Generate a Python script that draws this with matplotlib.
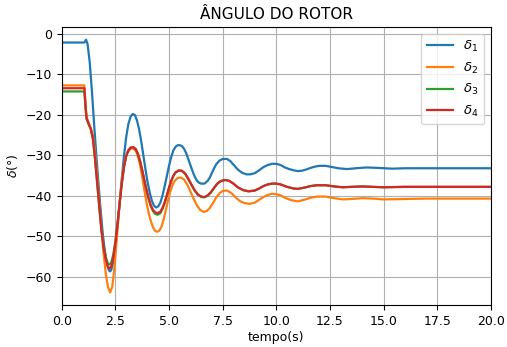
import numpy as np
import matplotlib
matplotlib.use('Agg')
from matplotlib import pyplot as plt

# data (tempo in s, angle in degrees) ----------------------------------------
t_d1 = [0.0, 1.05, 1.13, 1.2, 1.3, 1.4, 1.5, 1.6, 1.7, 1.8, 1.9, 2.0, 2.1, 2.2, 2.25,
        2.3, 2.4, 2.5, 2.6, 2.7, 2.8, 2.9, 3.0, 3.1, 3.2, 3.3, 3.4, 3.5, 3.6, 3.7,
        3.8, 3.9, 4.0, 4.1, 4.2, 4.3, 4.4, 4.5, 4.6, 4.7, 4.8, 4.9, 5.0, 5.1, 5.2,
        5.3, 5.4, 5.5, 5.6, 5.7, 5.8, 5.9, 6.0, 6.1, 6.2, 6.3, 6.4, 6.5, 6.65, 6.8,
        6.9, 7.0, 7.1, 7.2, 7.35, 7.5, 7.7, 7.85, 8.0, 8.2, 8.4, 8.6, 8.8, 9.0, 9.2,
        9.4, 9.6, 9.8, 10.0, 10.2, 10.4, 10.6, 10.8, 11.0, 11.2, 11.4, 11.6, 11.8,
        12.0, 12.3, 12.6, 12.9, 13.3, 13.7, 14.2, 14.7, 15.4, 16.0, 17.0, 18.0, 20.0]
d1 = [-2.1, -2.1, -1.4, -2.5, -7.0, -14.0, -22.0, -29.5, -36.5, -43.0, -49.0, -53.5,
      -56.8, -58.5, -58.7, -58.4, -56.3, -52.5, -47.5, -41.5, -35.5, -30.0, -25.5,
      -22.3, -20.5, -19.8, -20.0, -21.3, -23.5, -26.5, -30.0, -33.5, -36.7, -39.3,
      -41.3, -42.5, -42.9, -42.6, -41.6, -39.8, -37.5, -35.0, -32.5, -30.4, -28.8,
      -27.9, -27.5, -27.5, -27.7, -28.4, -29.5, -31.0, -32.5, -34.0, -35.3, -36.3,
      -36.8, -37.0, -37.0, -36.3, -35.5, -34.3, -33.2, -32.2, -31.3, -30.9, -30.9,
      -31.4, -32.3, -33.5, -34.3, -34.7, -34.7, -34.4, -33.7, -32.9, -32.4, -32.1,
      -32.1, -32.4, -33.0, -33.4, -33.7, -33.9, -33.8, -33.5, -33.1, -32.8, -32.6,
      -32.6, -32.9, -33.2, -33.4, -33.2, -33.0, -33.1, -33.3, -33.2, -33.2, -33.2,
      -33.2]

t_d2 = [0.0, 1.05, 1.1, 1.15, 1.25, 1.35, 1.45, 1.55, 1.65, 1.75, 1.85, 1.95, 2.05,
        2.15, 2.25, 2.35, 2.45, 2.55, 2.65, 2.75, 2.85, 2.95, 3.05, 3.2, 3.33, 3.45,
        3.55, 3.65, 3.75, 3.85, 3.95, 4.05, 4.15, 4.25, 4.35, 4.45, 4.55, 4.65, 4.75,
        4.85, 4.95, 5.05, 5.15, 5.25, 5.4, 5.55, 5.7, 5.85, 6.0, 6.15, 6.3, 6.45, 6.6,
        6.75, 6.9, 7.05, 7.2, 7.35, 7.5, 7.7, 7.9, 8.1, 8.3, 8.5, 8.75, 9.0, 9.2, 9.4,
        9.6, 9.8, 10.0, 10.2, 10.4, 10.7, 11.0, 11.3, 11.6, 11.9, 12.3, 12.7, 13.1,
        13.5, 14.0, 14.5, 15.0, 16.0, 17.0, 20.0]
d2 = [-12.7, -12.7, -17.0, -20.5, -22.0, -23.3, -25.0, -29.5, -35.5, -42.0, -48.5,
      -54.5, -59.3, -62.6, -63.9, -62.5, -58.0, -51.5, -44.5, -38.5, -34.0, -31.0,
      -29.3, -28.4, -28.3, -28.9, -30.3, -32.5, -35.5, -38.7, -41.8, -44.3, -46.3,
      -47.8, -48.7, -48.9, -48.6, -47.6, -45.8, -43.5, -41.2, -39.1, -37.5, -36.4,
      -35.6, -35.5, -36.0, -37.3, -39.0, -40.8, -42.4, -43.5, -44.0, -43.8, -43.0,
      -41.8, -40.4, -39.4, -38.8, -38.7, -39.3, -40.4, -41.3, -41.8, -42.0, -41.7,
      -41.0, -40.3, -39.8, -39.5, -39.6, -39.9, -40.5, -41.1, -41.4, -41.0, -40.5,
      -40.2, -40.2, -40.6, -40.9, -40.8, -40.6, -40.7, -40.9, -40.8, -40.7, -40.7]

t_d3 = [0.0, 1.05, 1.1, 1.15, 1.25, 1.35, 1.45, 1.55, 1.65, 1.75, 1.85, 1.95, 2.05,
        2.15, 2.22, 2.3, 2.4, 2.5, 2.6, 2.7, 2.8, 2.9, 3.0, 3.1, 3.2, 3.33, 3.45,
        3.55, 3.65, 3.75, 3.85, 3.95, 4.05, 4.15, 4.25, 4.35, 4.47, 4.6, 4.7, 4.8,
        4.9, 5.0, 5.1, 5.2, 5.3, 5.45, 5.6, 5.75, 5.9, 6.05, 6.2, 6.35, 6.5, 6.65,
        6.8, 6.95, 7.1, 7.25, 7.4, 7.6, 7.8, 8.0, 8.2, 8.45, 8.7, 9.0, 9.2, 9.4, 9.6,
        9.8, 10.0, 10.2, 10.5, 10.8, 11.0, 11.3, 11.6, 11.9, 12.3, 12.7, 13.1, 13.5,
        14.0, 14.5, 15.0, 16.0, 20.0]
d3 = [-14.2, -14.2, -18.0, -21.0, -22.3, -23.5, -26.0, -31.0, -37.0, -43.0, -48.5,
      -52.5, -55.3, -56.8, -57.0, -56.6, -54.5, -51.0, -46.5, -41.5, -36.8, -32.8,
      -30.2, -28.8, -28.1, -28.0, -28.5, -29.7, -31.5, -33.8, -36.3, -38.8, -40.9,
      -42.6, -43.8, -44.5, -44.7, -44.3, -43.2, -41.7, -39.9, -38.0, -36.4, -35.1,
      -34.3, -33.8, -33.9, -34.6, -35.9, -37.4, -38.8, -39.8, -40.3, -40.4, -40.0,
      -39.2, -38.1, -37.0, -36.4, -36.1, -36.3, -37.0, -37.9, -38.6, -38.9, -38.7,
      -38.2, -37.6, -37.2, -37.0, -37.0, -37.2, -37.8, -38.2, -38.3, -38.0, -37.6,
      -37.4, -37.4, -37.7, -37.9, -37.8, -37.7, -37.8, -37.9, -37.8, -37.8]

t_d4 = t_d3
d4 = [-13.4, -13.4, -17.5, -20.8, -22.2, -23.5, -26.0, -31.0, -37.0, -43.0, -48.8,
      -53.0, -55.8, -57.6, -58.0, -57.5, -55.2, -51.5, -46.8, -41.6, -36.8, -32.8,
      -30.2, -28.8, -28.1, -28.0, -28.5, -29.7, -31.5, -33.7, -36.2, -38.6, -40.7,
      -42.4, -43.5, -44.1, -44.3, -43.9, -42.9, -41.5, -39.8, -37.9, -36.3, -35.0,
      -34.2, -33.7, -33.8, -34.5, -35.8, -37.3, -38.7, -39.7, -40.2, -40.3, -39.9,
      -39.1, -38.0, -37.0, -36.4, -36.1, -36.3, -37.0, -37.9, -38.6, -38.9, -38.7,
      -38.2, -37.6, -37.2, -37.0, -37.0, -37.2, -37.8, -38.2, -38.3, -38.0, -37.6,
      -37.4, -37.4, -37.7, -37.9, -37.8, -37.7, -37.8, -37.9, -37.8, -37.8]

series = [(t_d1, d1, r'$\delta_1$'), (t_d2, d2, r'$\delta_2$'),
          (t_d3, d3, r'$\delta_3$'), (t_d4, d4, r'$\delta_4$')]

# plot -----------------------------------------------------------------------
plt.rcParams['font.size'] = 9

fig = plt.figure(figsize=(5.07, 3.47), dpi=100)
ax = fig.add_axes([0.122, 0.121, 0.846, 0.801])

for t, d, lbl in series:
    ax.plot(t, d, label=lbl, linewidth=1.6)

ax.set_xlim(0, 20)
ax.set_title('ÂNGULO DO ROTOR', fontsize=11)
ax.set_xlabel('tempo(s)', labelpad=2)
ax.set_ylabel(r'$\delta(°)$')
ax.grid(True)
ax.legend(loc='upper right', fontsize=9.5)

fig.savefig('out.png', dpi=100)
